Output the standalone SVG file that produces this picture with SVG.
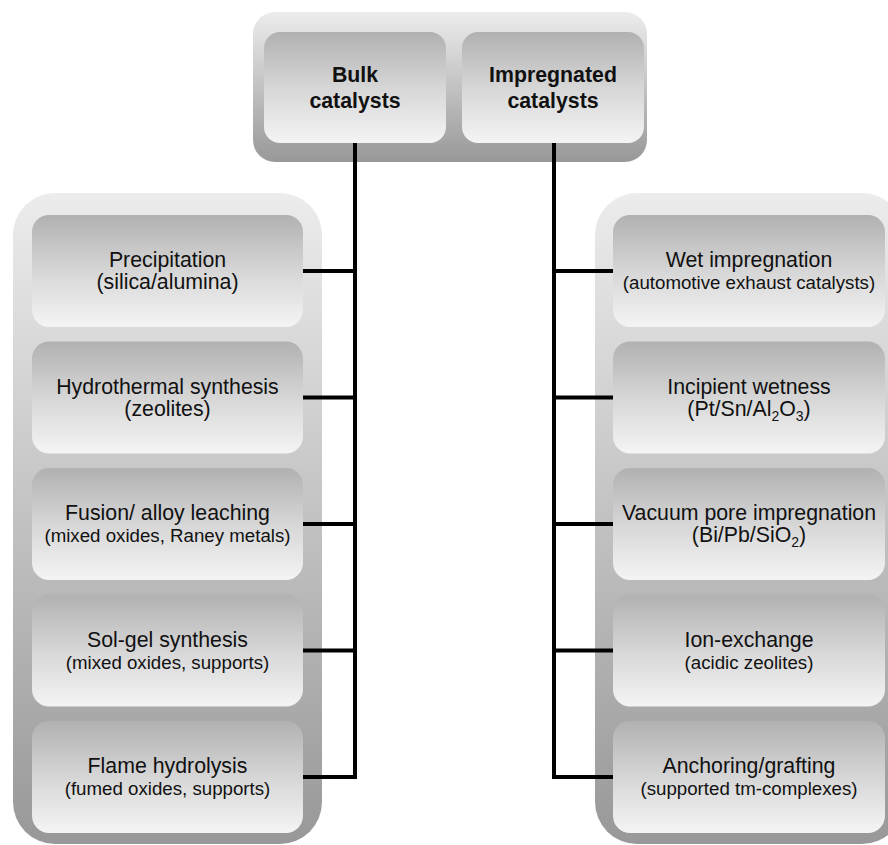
<svg xmlns="http://www.w3.org/2000/svg" width="888" height="845" viewBox="0 0 888 845">
<defs>
<linearGradient id="gCont" x1="0" y1="0" x2="0" y2="1">
<stop offset="0" stop-color="#ececec"/>
<stop offset="1" stop-color="#989898"/>
</linearGradient>
<linearGradient id="gBox" x1="0" y1="0" x2="0" y2="1">
<stop offset="0" stop-color="#b1b1b1"/>
<stop offset="0.5" stop-color="#d6d6d6"/>
<stop offset="1" stop-color="#f4f4f4"/>
</linearGradient>
<style>
.cont{fill:url(#gCont)}
.box{fill:url(#gBox)}
text{font-family:"Liberation Sans",Arial,sans-serif;fill:#111;text-anchor:middle}
.t{font-size:21.3px}
.b{font-size:21.3px;font-weight:bold}
.s{font-size:18.7px}
.sub{font-size:14px}
.con{stroke:#000;stroke-width:4;fill:none;stroke-linecap:square}
</style>
</defs>
<rect class="cont" x="253" y="12" width="394" height="150" rx="22" ry="22"/>
<rect class="cont" x="13" y="193" width="309" height="651" rx="42" ry="42"/>
<rect class="cont" x="595" y="193" width="309" height="651" rx="42" ry="42"/>
<g id="connectors">
<path class="con" d="M355,145 V777 H305"/>
<path class="con" d="M355,271 H305 M355,397.5 H305 M355,524 H305 M355,650.5 H305"/>
<path class="con" d="M554,145 V777 H611"/>
<path class="con" d="M554,271 H611 M554,397.5 H611 M554,524 H611 M554,650.5 H611"/>
</g>
<g id="bulk">
<rect class="box" x="264" y="32" width="182" height="111" rx="16"/>
<text class="b" x="355" y="82">Bulk</text>
<text class="b" x="355" y="108">catalysts</text>
</g>
<g id="impregnated">
<rect class="box" x="462" y="32" width="182" height="111" rx="16"/>
<text class="b" x="553" y="82">Impregnated</text>
<text class="b" x="553" y="108">catalysts</text>
</g>
<g id="precipitation">
<rect class="box" x="32" y="215" width="271" height="112" rx="17"/>
<text class="t" x="167.5" y="267">Precipitation</text>
<text class="t" x="167.5" y="289">(silica/alumina)</text>
</g>
<g id="hydrothermal">
<rect class="box" x="32" y="341.5" width="271" height="112" rx="17"/>
<text class="t" x="167.5" y="393.5">Hydrothermal synthesis</text>
<text class="t" x="167.5" y="415.5">(zeolites)</text>
</g>
<g id="fusion">
<rect class="box" x="32" y="468" width="271" height="112" rx="17"/>
<text class="t" x="167.5" y="520">Fusion/ alloy leaching</text>
<text class="s" x="167.5" y="542">(mixed oxides, Raney metals)</text>
</g>
<g id="solgel">
<rect class="box" x="32" y="594.5" width="271" height="112" rx="17"/>
<text class="t" x="167.5" y="646.5">Sol-gel synthesis</text>
<text class="s" x="167.5" y="668.5">(mixed oxides, supports)</text>
</g>
<g id="flame">
<rect class="box" x="32" y="721" width="271" height="112" rx="17"/>
<text class="t" x="167.5" y="773">Flame hydrolysis</text>
<text class="s" x="167.5" y="795">(fumed oxides, supports)</text>
</g>
<g id="wet">
<rect class="box" x="613" y="215" width="272" height="112" rx="17"/>
<text class="t" x="749" y="267">Wet impregnation</text>
<text class="s" x="749" y="289">(automotive exhaust catalysts)</text>
</g>
<g id="incipient">
<rect class="box" x="613" y="341.5" width="272" height="112" rx="17"/>
<text class="t" x="749" y="393.5">Incipient wetness</text>
<text class="t" x="749" y="415.5">(Pt/Sn/Al<tspan class="sub" dy="5">2</tspan><tspan dy="-5">O</tspan><tspan class="sub" dy="5">3</tspan><tspan dy="-5">)</tspan></text>
</g>
<g id="vacuum">
<rect class="box" x="613" y="468" width="272" height="112" rx="17"/>
<text class="t" x="749" y="520">Vacuum pore impregnation</text>
<text class="t" x="749" y="542">(Bi/Pb/SiO<tspan class="sub" dy="5">2</tspan><tspan dy="-5">)</tspan></text>
</g>
<g id="ionexchange">
<rect class="box" x="613" y="594.5" width="272" height="112" rx="17"/>
<text class="t" x="749" y="646.5">Ion-exchange</text>
<text class="s" x="749" y="668.5">(acidic zeolites)</text>
</g>
<g id="anchoring">
<rect class="box" x="613" y="721" width="272" height="112" rx="17"/>
<text class="t" x="749" y="773">Anchoring/grafting</text>
<text class="s" x="749" y="795">(supported tm-complexes)</text>
</g>
</svg>
